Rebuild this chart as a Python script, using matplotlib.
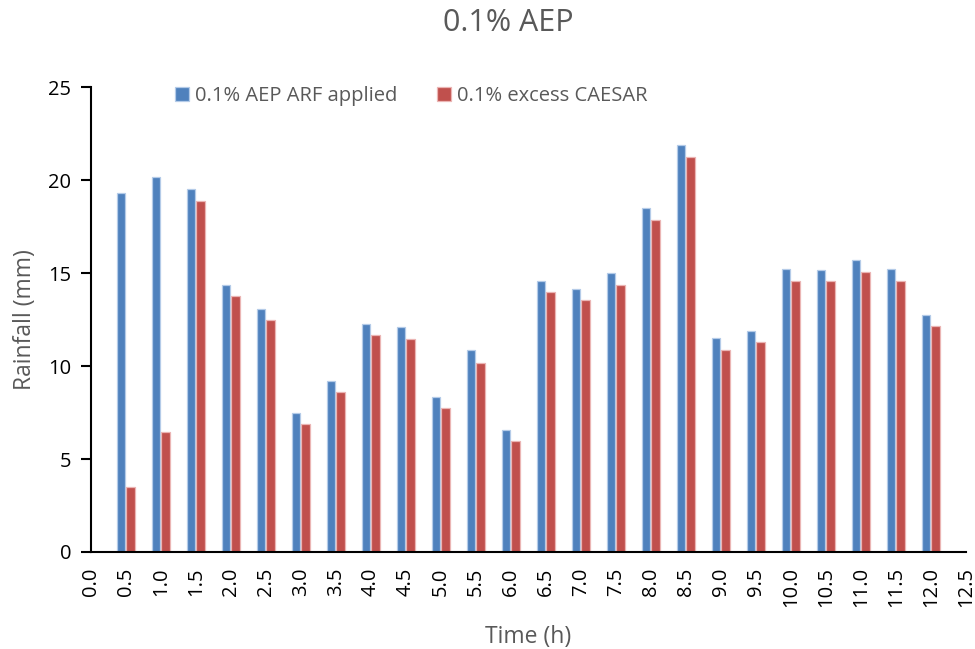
import numpy as np
import matplotlib
matplotlib.use("Agg")
import matplotlib.pyplot as plt

# Donnees
times = [0.5, 1.0, 1.5, 2.0, 2.5, 3.0, 3.5, 4.0, 4.5, 5.0, 5.5, 6.0,
         6.5, 7.0, 7.5, 8.0, 8.5, 9.0, 9.5, 10.0, 10.5, 11.0, 11.5, 12.0]
arf_applied = [19.33, 20.18, 19.53, 14.38, 13.07, 7.47, 9.18, 12.24, 12.08, 8.35, 10.84, 6.55,
               14.56, 14.15, 15.01, 18.51, 21.92, 11.50, 11.90, 15.21, 15.15, 15.69, 15.22, 12.76]
excess_caesar = [3.48, 6.48, 18.89, 13.77, 12.48, 6.89, 8.58, 11.69, 11.47, 7.77, 10.18, 5.98,
                 13.98, 13.57, 14.38, 17.88, 21.27, 10.88, 11.27, 14.58, 14.58, 15.08, 14.58, 12.17]
series_names = ["0.1% AEP ARF applied", "0.1% excess CAESAR"]
x_ticks = np.arange(0, 12.51, 0.5)

plt.rcParams['font.family'] = ['Open Sans', 'DejaVu Sans']
grey = '#595959'

fig = plt.figure(figsize=(9.75, 6.49), dpi=100)
ax = fig.add_axes([0.093, 0.1495, 0.8975, 0.716])

t = np.array(times)
w = 0.125
ax.bar(t - 0.068, arf_applied, width=w, color='#4F81BD', edgecolor='#b4cbe8', linewidth=0.9,
       label=series_names[0])
ax.bar(t + 0.068, excess_caesar, width=w, color='#C0504D', edgecolor='#ebb5b4', linewidth=0.9,
       label=series_names[1])

ax.set_xlim(0, 12.5)
ax.set_ylim(0, 25)
ax.set_yticks(np.arange(0, 26, 5))
ax.set_xticks(x_ticks, [f'{v:.1f}' for v in x_ticks], rotation=90)
ax.set_xticks(np.arange(0, 12.51, 2.5), minor=True)
ax.tick_params(axis='x', which='major', length=0, pad=11, labelsize=14.5)
ax.tick_params(axis='x', which='minor', length=7, width=1.5, direction='out')
ax.tick_params(axis='y', length=7, width=1.5, pad=7, labelsize=14.5)

for s in ['top', 'right']:
    ax.spines[s].set_visible(False)
for s in ['left', 'bottom']:
    ax.spines[s].set_linewidth(1.5)

ax.set_xlabel('Time (h)', fontsize=16.5, color=grey, labelpad=13)
ax.set_ylabel('Rainfall (mm)', fontsize=16.5, color=grey, labelpad=8)
fig.text(0.521, 0.965, '0.1% AEP', ha='center', va='center', fontsize=22, color=grey)

leg = ax.legend(loc='center left', bbox_to_anchor=(175 / 975, 1 - 96 / 649),
                bbox_transform=fig.transFigure, ncol=2, frameon=False, fontsize=14.5,
                handlelength=0.68, handleheight=0.68, handletextpad=0.3,
                columnspacing=2.0, borderpad=0, borderaxespad=0)
for txt in leg.get_texts():
    txt.set_color(grey)

fig.savefig('out.png', dpi=100)
